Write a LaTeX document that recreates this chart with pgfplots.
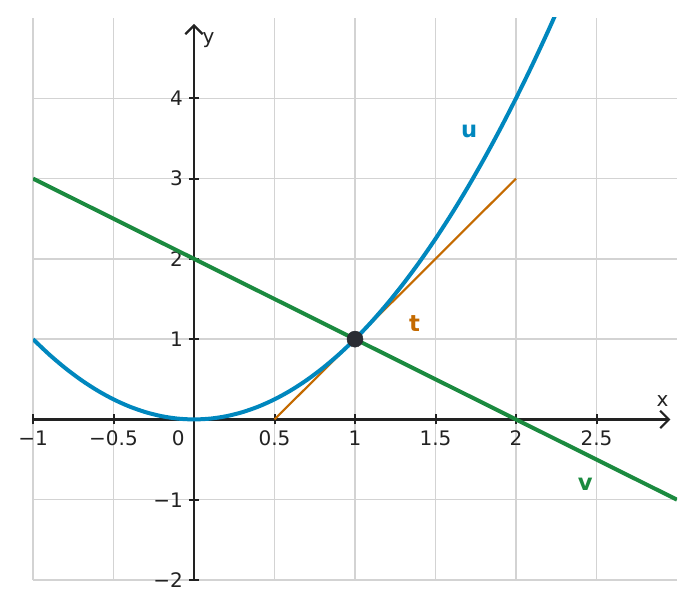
\documentclass[border=0pt]{standalone}
\usepackage{fontspec}
\setmainfont{DejaVu Sans}
\usepackage{pgfplots}
\pgfplotsset{compat=1.18}
\usetikzlibrary{arrows.meta}

\definecolor{ublue}{HTML}{0087BE}
\definecolor{vgreen}{HTML}{1B8A3F}
\definecolor{torange}{HTML}{C46A00}
\definecolor{axdark}{HTML}{222222}
\definecolor{dotgray}{HTML}{2B2D33}
\definecolor{gridgray}{HTML}{D3D3D3}

\begin{document}
\begin{tikzpicture}[font=\fontsize{15}{18}\selectfont]
\begin{axis}[
    name=ax,
    scale only axis,
    width=483pt, height=421.5pt,
    xmin=-1, xmax=3, ymin=-2, ymax=5,
    axis lines=middle,
    axis line style={axdark, line width=1.9pt},
    x axis line style={-{Straight Barb[length=6.5pt,width=13pt,line width=1.6pt]}, shorten >=5pt},
    y axis line style={-{Straight Barb[length=6.5pt,width=13pt,line width=1.6pt]}, shorten >=4.5pt},
    xtick={-1,-0.5,0.5,1,1.5,2,2.5},
    xticklabels={−1,−0.5,0.5,1,1.5,2,2.5},
    ytick={-2,-1,1,2,3,4},
    yticklabels={−2,−1,1,2,3,4},
    tick align=center,
    major tick length=7.5pt,
    tick style={axdark, line width=1.5pt},
    grid=major,
    grid style={gridgray, line width=1.1pt},
    ticklabel style={font=\fontsize{15}{18}\selectfont},
    xticklabel style={anchor=north, yshift=-1pt, text=axdark},
    yticklabel style={anchor=east, xshift=-1pt, text=axdark},
    clip=true,
]

% v
\addplot[vgreen, line width=3pt] coordinates {(-1,3) (3,-1)};
% t
\addplot[torange, line width=1.6pt] coordinates {(0.5,0) (2,3)};
% u
\addplot[ublue, line width=3pt, smooth] coordinates {
    (-1,1)(-0.9,0.81)(-0.8,0.64)(-0.7,0.49)(-0.6,0.36)(-0.5,0.25)(-0.4,0.16)
    (-0.3,0.09)(-0.2,0.04)(-0.1,0.01)(0,0)(0.1,0.01)(0.2,0.04)(0.3,0.09)
    (0.4,0.16)(0.5,0.25)(0.6,0.36)(0.7,0.49)(0.8,0.64)(0.9,0.81)(1,1)
    (1.1,1.21)(1.2,1.44)(1.3,1.69)(1.4,1.96)(1.5,2.25)(1.6,2.56)(1.7,2.89)
    (1.8,3.24)(1.9,3.61)(2,4)(2.1,4.41)(2.2,4.84)(2.3,5.29)
};
% point of tangency
\addplot[only marks, mark=*, mark size=6pt, mark options={fill=dotgray, draw=dotgray}]
    coordinates {(1,1)};

\node[text=ublue, font=\fontsize{17}{20}\selectfont\bfseries] at (axis cs:1.71,3.59) {u};
\node[text=torange, font=\fontsize{17}{20}\selectfont\bfseries] at (axis cs:1.37,1.19) {t};
\node[text=vgreen, font=\fontsize{17}{20}\selectfont\bfseries] at (axis cs:2.43,-0.81) {v};
\node[text=axdark, anchor=north east] at (axis cs:0,0) [xshift=-3.5pt, yshift=-5pt] {0};
\node[text=axdark] at (axis cs:2.91,0.23) {x};
\node[text=axdark] at (axis cs:0.09,4.73) {y};
\end{axis}
\pgfresetboundingbox
\path ([shift={(-24.75pt,-21.75pt)}]ax.south west) rectangle ([shift={(12.75pt,13.5pt)}]ax.north east);
\end{tikzpicture}
\end{document}
